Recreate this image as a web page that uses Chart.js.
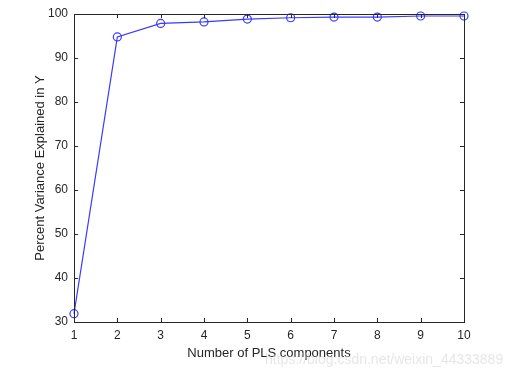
<!DOCTYPE html>
<html>
<head>
<meta charset="utf-8">
<script src="https://cdn.jsdelivr.net/npm/chart.js@4"></script>
<style>
  html, body { margin: 0; padding: 0; background: #fff; }
  #wrap { width: 508px; height: 377px; }
</style>
</head>
<body>
<div id="wrap"><canvas id="plsChart" width="508" height="377"></canvas></div>
<script>
const components = [1, 2, 3, 4, 5, 6, 7, 8, 9, 10];
const varianceY = [31.9, 94.8, 97.85, 98.2, 98.85, 99.15, 99.3, 99.3, 99.55, 99.55];
const xTicks = [1, 2, 3, 4, 5, 6, 7, 8, 9, 10];
const yTicks = [30, 40, 50, 60, 70, 80, 90, 100];

const FONT = "Liberation Sans, Arial, Helvetica, sans-serif";
const TEXT = '#262626';

// MATLAB-style box with inward ticks on all four sides
const boxTicks = {
    id: 'boxTicks',
    afterDatasetsDraw(chart) {
        const { ctx, chartArea: a, scales: { x, y } } = chart;
        ctx.save();
        ctx.strokeStyle = '#262626';
        ctx.lineWidth = 1;
        ctx.beginPath();
        xTicks.forEach(v => {
            const px = Math.round(x.getPixelForValue(v)) + 0.5;
            ctx.moveTo(px, a.bottom); ctx.lineTo(px, a.bottom - 4);
            ctx.moveTo(px, a.top); ctx.lineTo(px, a.top + 4);
        });
        yTicks.forEach(v => {
            const py = Math.round(y.getPixelForValue(v)) + 0.5;
            ctx.moveTo(a.left, py); ctx.lineTo(a.left + 4, py);
            ctx.moveTo(a.right, py); ctx.lineTo(a.right - 4, py);
        });
        ctx.stroke();
        ctx.strokeRect(Math.round(a.left) + 0.5, Math.round(a.top) + 0.5,
            Math.round(a.right - a.left), Math.round(a.bottom - a.top));
        // faint watermark from the source image
        ctx.fillStyle = 'rgba(210,210,210,0.55)';
        ctx.font = '14px ' + FONT;
        ctx.textBaseline = 'middle';
        ctx.fillText('https://blog.csdn.net/weixin_44333889', 265, 360);
        ctx.restore();
    }
};

new Chart(document.getElementById('plsChart').getContext('2d'), {
    type: 'line',
    data: {
        datasets: [{
            data: components.map((c, i) => ({ x: c, y: varianceY[i] })),
            borderColor: '#3a3aff',
            backgroundColor: 'rgba(0,0,0,0)',
            borderWidth: 1.2,
            pointRadius: 4,
            pointBorderWidth: 1.2,
            pointBorderColor: '#3a3aff',
            pointBackgroundColor: 'rgba(0,0,0,0)',
            tension: 0,
            clip: false
        }]
    },
    options: {
        responsive: false,
        animation: false,
        devicePixelRatio: 1,
        layout: { padding: { left: 33, top: 14, right: 44, bottom: 16 } },
        plugins: {
            legend: { display: false },
            tooltip: { enabled: false }
        },
        scales: {
            x: {
                type: 'linear',
                min: 1,
                max: 10,
                afterFit(scale) { scale.height = 39; },
                afterBuildTicks(scale) { scale.ticks = xTicks.map(v => ({ value: v })); },
                grid: { display: false, drawTicks: false },
                border: { display: false },
                ticks: { color: TEXT, font: { family: FONT, size: 12 }, padding: 6 },
                title: {
                    display: true,
                    text: 'Number of PLS components',
                    color: TEXT,
                    font: { family: FONT, size: 13 },
                    padding: { top: 0, bottom: 0 }
                }
            },
            y: {
                min: 30,
                max: 100,
                afterFit(scale) { scale.width = 41; },
                afterBuildTicks(scale) { scale.ticks = yTicks.map(v => ({ value: v })); },
                grid: { display: false, drawTicks: false },
                border: { display: false },
                ticks: { color: TEXT, font: { family: FONT, size: 12 }, padding: 6 },
                title: {
                    display: true,
                    text: 'Percent Variance Explained in Y',
                    color: TEXT,
                    font: { family: FONT, size: 13 },
                    padding: { top: 0, bottom: 0 }
                }
            }
        }
    },
    plugins: [boxTicks]
});
</script>
</body>
</html>
